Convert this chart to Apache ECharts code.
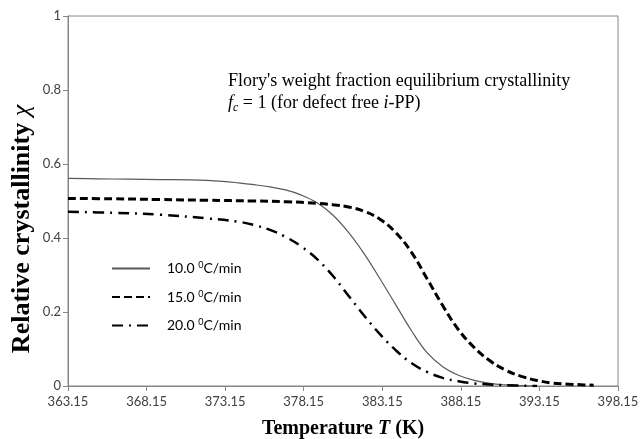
<!DOCTYPE html>
<html>
<head>
<meta charset="utf-8">
<script src="https://cdn.jsdelivr.net/npm/echarts@6/dist/echarts.min.js"></script>
<style>html,body{margin:0;padding:0;background:#fff}#c{width:640px;height:439px}</style>
</head>
<body>
<div id="c"></div>
<script>
// Temperature (K) and relative crystallinity values
const rate10T = [363.15, 365, 367, 369, 371, 373, 374, 375, 376, 377, 378, 379, 380, 381, 382, 383, 384, 385, 386, 387, 388, 389, 390, 391, 392, 393];
const rate10V = [0.561, 0.560, 0.559, 0.558, 0.557, 0.553, 0.549, 0.544, 0.538, 0.530, 0.516, 0.495, 0.462, 0.415, 0.357, 0.290, 0.220, 0.150, 0.090, 0.052, 0.029, 0.015, 0.007, 0.003, 0.001, 0.000];

const rate15T = [363.15, 366, 369, 372, 375, 377, 379, 380, 381, 382, 383, 384, 385, 386, 387, 388, 389, 390, 391, 392, 393, 394, 395, 396, 396.6];
const rate15V = [0.507, 0.506, 0.504, 0.502, 0.500, 0.498, 0.494, 0.490, 0.484, 0.472, 0.451, 0.415, 0.362, 0.290, 0.217, 0.152, 0.104, 0.068, 0.043, 0.026, 0.015, 0.008, 0.005, 0.003, 0.002];

const rate20T = [363.15, 366, 369, 372, 374, 375, 376, 377, 378, 379, 380, 381, 382, 383, 384, 385, 386, 387, 388, 389, 390, 391, 393];
const rate20V = [0.471, 0.468, 0.463, 0.453, 0.444, 0.435, 0.422, 0.403, 0.377, 0.343, 0.298, 0.244, 0.190, 0.140, 0.097, 0.062, 0.038, 0.022, 0.013, 0.007, 0.004, 0.002, 0.000];

const seriesNames = ['10.0 {sup|0}C/min', '15.0 {sup|0}C/min', '20.0 {sup|0}C/min'];
const xTicks = [363.15, 368.15, 373.15, 378.15, 383.15, 388.15, 393.15, 398.15];
const yTicks = [0, 0.2, 0.4, 0.6, 0.8, 1];

const zip = (a, b) => a.map((t, i) => [t, b[i]]);

const chart = echarts.init(document.getElementById('c'), null, {renderer: 'canvas'});
const serif = '"Liberation Serif", "Times New Roman", serif';
const sans = 'Lato, "Open Sans", sans-serif';

chart.setOption({
  animation: false,
  backgroundColor: '#fff',
  grid: {left: 68, right: 22, top: 16, bottom: 53, show: true, borderColor: '#868686', borderWidth: 1,
         containLabel: false, outerBoundsMode: 'none'},
  xAxis: {
    type: 'value', min: xTicks[0], max: xTicks[xTicks.length - 1],
    name: '{b|Temperature }{bi|T}{b| (K)}', nameLocation: 'middle', nameGap: 33,
    nameTextStyle: {rich: {
      b: {fontFamily: serif, fontWeight: 'bold', fontSize: 20, color: '#000'},
      bi: {fontFamily: serif, fontWeight: 'bold', fontStyle: 'italic', fontSize: 20, color: '#000'}
    }},
    axisLine: {show: true, lineStyle: {color: '#868686', width: 1}},
    axisTick: {show: true, inside: false, length: 5, customValues: xTicks, lineStyle: {color: '#868686'}},
    axisLabel: {customValues: xTicks, formatter: v => v.toFixed(2), fontFamily: sans, fontSize: 13, color: '#404040', margin: 9},
    splitLine: {show: false}
  },
  yAxis: {
    type: 'value', min: yTicks[0], max: yTicks[yTicks.length - 1], interval: 0.2,
    axisLine: {show: true, lineStyle: {color: '#868686', width: 1}},
    axisTick: {show: true, inside: false, length: 5, lineStyle: {color: '#868686'}},
    axisLabel: {formatter: v => (Math.round(v * 10) / 10).toString(), fontFamily: sans, fontSize: 13, color: '#404040', margin: 7},
    splitLine: {show: false}
  },
  legend: {
    orient: 'vertical', left: 106, top: 256, itemWidth: 38, itemHeight: 12, itemGap: 14,
    data: seriesNames,
    itemStyle: {opacity: 0},
    textStyle: {fontFamily: sans, fontSize: 14, color: '#000', padding: [0, 0, 0, 12],
      rich: {sup: {fontFamily: sans, fontSize: 9, color: '#000', verticalAlign: 'top', padding: [0, 0, 6, 0]}}}
  },
  graphic: [{
    type: 'text', left: 228, top: 72,
    style: {
      text: "{n|Flory's weight fraction equilibrium crystallinity}\n{i|f}{s|c}{n| = 1 (for defect free }{i|i}{n|-PP)}",
      rich: {
        n: {fontFamily: serif, fontSize: 18, fill: '#000', lineHeight: 22},
        i: {fontFamily: serif, fontSize: 18, fontStyle: 'italic', fill: '#000', lineHeight: 22},
        s: {fontFamily: serif, fontSize: 12, fontStyle: 'italic', fill: '#000', padding: [9, 0, 0, 0], lineHeight: 22}
      }
    }
  }, {
    type: 'text', x: 22, y: 229, rotation: Math.PI / 2,
    style: {
      text: '{b|Relative crystallinity }{bi|χ}', align: 'center', verticalAlign: 'middle',
      rich: {
        b: {fontFamily: serif, fontWeight: 'bold', fontSize: 26, fill: '#000'},
        bi: {fontFamily: serif, fontStyle: 'italic', fontSize: 26, fill: '#000'}
      }
    }
  }],
  series: [
    {name: seriesNames[0], type: 'line', data: zip(rate10T, rate10V), smooth: 0.4, symbol: 'none',
     lineStyle: {color: '#595959', width: 1.2, type: 'solid'}, itemStyle: {color: '#595959'}},
    {name: seriesNames[1], type: 'line', data: zip(rate15T, rate15V), smooth: 0.4, symbol: 'none',
     lineStyle: {color: '#000', width: 3, type: [8, 4]}, itemStyle: {color: '#000'}},
    {name: seriesNames[2], type: 'line', data: zip(rate20T, rate20V), smooth: 0.4, symbol: 'none',
     lineStyle: {color: '#000', width: 2.5, type: [11, 6, 2, 6]}, itemStyle: {color: '#000'}}
  ]
});
</script>
</body>
</html>
